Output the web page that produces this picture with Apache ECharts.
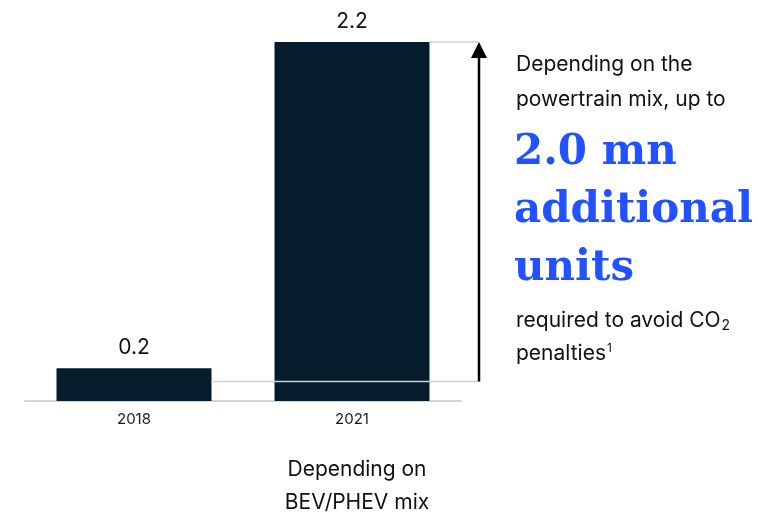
<!DOCTYPE html>
<html>
<head>
<meta charset="utf-8">
<script src="https://cdn.jsdelivr.net/npm/echarts@6/dist/echarts.min.js"></script>
<style>
  html, body { margin: 0; padding: 0; background: #fff; }
  #chart { width: 767px; height: 517px; }
</style>
</head>
<body>
<div id="chart"></div>
<script>
// Vehicle units (mn) by year
const categories = ['2018', '2021'];
const values = [0.2, 2.2];
// Span bridged by the arrow (mn units)
const gapRange = [0.12, 2.2];

const SANS = 'Inter, "Liberation Sans", Arial, sans-serif';
const SERIF = '"DejaVu Serif", Georgia, serif';
const NAVY = '#051c2c';
const BLUE = '#2251ff';

const chart = echarts.init(document.getElementById('chart'), null, { renderer: 'canvas' });

const option = {
  animation: false,
  backgroundColor: '#fff',
  grid: { left: 25, width: 436, top: 42, bottom: 116 },
  xAxis: {
    type: 'category',
    data: categories,
    axisLine: { lineStyle: { color: '#d4d4d4', width: 2 } },
    axisTick: { show: false },
    axisLabel: { color: '#1a1a1a', fontFamily: SANS, fontSize: 15, margin: 11 }
  },
  yAxis: {
    type: 'value',
    min: 0,
    max: 2.2,
    show: false,
    splitLine: { show: false }
  },
  series: [{
    type: 'bar',
    data: values,
    barWidth: 155,
    itemStyle: { color: NAVY },
    label: {
      show: true,
      position: 'top',
      distance: 10,
      color: '#111',
      fontFamily: SANS,
      fontSize: 21,
      formatter: p => p.value.toFixed(1)
    },
    z: 2
  }]
};
chart.setOption(option);

// Annotation: arrow from the lower reference to the 2021 level
const yLow = chart.convertToPixel({ yAxisIndex: 0 }, gapRange[0]);
const yHigh = chart.convertToPixel({ yAxisIndex: 0 }, gapRange[1]);
const x2021 = chart.convertToPixel({ xAxisIndex: 0 }, categories[1]);
const bar1Right = chart.convertToPixel({ xAxisIndex: 0 }, categories[0]) + 155 / 2;
const bar2Right = x2021 + 155 / 2;
const arrowX = 479;

chart.setOption({
  graphic: [
    {
      type: 'line', z: 10,
      shape: { x1: bar1Right, y1: yLow, x2: arrowX, y2: yLow },
      style: { stroke: '#cfcfcf', lineWidth: 1.5 }
    },
    {
      type: 'line', z: 10,
      shape: { x1: bar2Right, y1: yHigh, x2: arrowX, y2: yHigh },
      style: { stroke: '#cfcfcf', lineWidth: 1.5 }
    },
    {
      type: 'line', z: 11,
      shape: { x1: arrowX, y1: yLow, x2: arrowX, y2: yHigh + 14 },
      style: { stroke: '#000', lineWidth: 2.5 }
    },
    {
      type: 'polygon', z: 11,
      shape: { points: [[arrowX - 8, yHigh + 16], [arrowX + 8, yHigh + 16], [arrowX, yHigh]] },
      style: { fill: '#000' }
    },
    // Note under the 2021 bar
    {
      type: 'text',
      x: x2021 + 5, y: 453,
      style: {
        text: 'Depending on\nBEV/PHEV mix',
        align: 'center',
        verticalAlign: 'top',
        fill: '#111',
        font: '21px ' + SANS,
        lineHeight: 33
      }
    },
    // Side commentary
    {
      type: 'text',
      x: 516, y: 47,
      style: {
        text: 'Depending on the\npowertrain mix, up to',
        verticalAlign: 'top',
        fill: '#111',
        font: '21px ' + SANS,
        lineHeight: 35
      }
    },
    {
      type: 'text',
      x: 514, y: 124,
      style: {
        text: '2.0 mn\nadditional\nunits',
        verticalAlign: 'top',
        fill: BLUE,
        font: 'bold 42px ' + SERIF,
        lineHeight: 58
      }
    },
    {
      type: 'text',
      x: 516, y: 304,
      style: {
        text: '{t|required to avoid CO}{sub|2}\n{t|penalties}{sup|1}',
        verticalAlign: 'top',
        rich: {
          t: { fill: '#111', fontFamily: SANS, fontSize: 21, lineHeight: 33 },
          sub: { fill: '#111', fontFamily: SANS, fontSize: 14, lineHeight: 33, padding: [11, 0, 0, 1] },
          sup: { fill: '#111', fontFamily: SANS, fontSize: 12, lineHeight: 33, padding: [0, 0, 10, 1] }
        }
      }
    }
  ]
});
</script>
</body>
</html>
